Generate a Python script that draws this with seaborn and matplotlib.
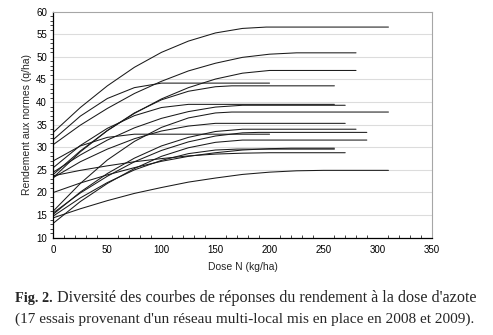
import matplotlib
matplotlib.use("Agg")
import matplotlib.pyplot as plt
from matplotlib.ticker import MultipleLocator
import seaborn as sns
import pandas as pd

# Nitrogen dose (kg/ha) and yield (q/ha) read along each of the 17 trial response curves
trial_doses = [
    [0, 25, 50, 75, 100, 125, 150, 175, 197, 310],
    [0, 25, 50, 75, 100, 105, 200],
    [0, 25, 50, 75, 100, 125, 150, 175, 200, 225, 280],
    [0, 25, 50, 75, 100, 125, 150, 175, 200, 210, 280],
    [0, 25, 50, 75, 100, 125, 150, 165, 260],
    [0, 25, 50, 75, 100, 125, 130, 260],
    [0, 25, 50, 75, 100, 125, 150, 175, 180, 270],
    [0, 25, 50, 75, 100, 125, 150, 165, 310],
    [0, 25, 50, 75, 100, 125, 150, 160, 270],
    [0, 25, 50, 75, 100, 125, 150, 175, 180, 280],
    [0, 25, 50, 75, 100, 125, 150, 175, 190, 290],
    [0, 25, 50, 75, 200],
    [0, 25, 50, 75, 100, 125, 150, 175, 180, 290],
    [0, 25, 50, 75, 100, 125, 150, 175, 200, 220, 260],
    [0, 25, 50, 75, 100, 125, 150, 170, 260],
    [0, 25, 50, 75, 100, 125, 150, 175, 200, 270],
    [0, 25, 50, 75, 100, 125, 150, 175, 200, 225, 250, 310],
]
trial_yields = [
    [33.3, 38.8, 43.6, 47.7, 51.0, 53.5, 55.3, 56.3, 56.6, 56.6],
    [31.7, 36.9, 40.8, 43.2, 44.2, 44.2, 44.2],
    [30.6, 34.9, 38.6, 41.9, 44.6, 46.9, 48.6, 49.9, 50.6, 50.9, 50.9],
    [24.0, 29.2, 33.7, 37.5, 40.7, 43.2, 45.1, 46.4, 47.0, 47.0, 47.0],
    [23.3, 29.0, 33.7, 37.6, 40.5, 42.4, 43.4, 43.6, 43.6],
    [25.5, 30.4, 34.2, 37.0, 38.8, 39.5, 39.5, 39.5],
    [24.5, 28.3, 31.6, 34.3, 36.4, 37.9, 38.9, 39.3, 39.3, 39.3],
    [15.9, 22.0, 27.2, 31.3, 34.4, 36.5, 37.6, 37.8, 37.8],
    [23.3, 26.8, 29.6, 31.9, 33.6, 34.7, 35.3, 35.3, 35.3],
    [15.2, 20.1, 24.2, 27.6, 30.3, 32.2, 33.5, 34.0, 34.0, 34.0],
    [15.5, 19.9, 23.6, 26.8, 29.3, 31.2, 32.5, 33.2, 33.3, 33.3],
    [27.0, 30.3, 32.2, 32.9, 32.9],
    [13.2, 18.0, 22.0, 25.3, 28.0, 29.9, 31.1, 31.6, 31.6, 31.6],
    [20.0, 22.1, 23.9, 25.5, 26.9, 28.0, 28.8, 29.4, 29.7, 29.8, 29.8],
    [14.8, 18.8, 22.2, 25.0, 27.1, 28.6, 29.4, 29.6, 29.6],
    [23.7, 24.9, 25.9, 26.8, 27.5, 28.1, 28.5, 28.7, 28.8, 28.8],
    [14.4, 16.4, 18.2, 19.8, 21.1, 22.3, 23.2, 24.0, 24.5, 24.8, 24.9, 24.9],
]
x_ticks = [0, 50, 100, 150, 200, 250, 300, 350]
y_ticks = [10, 15, 20, 25, 30, 35, 40, 45, 50, 55, 60]

rows = []
for t, (ds, ys) in enumerate(zip(trial_doses, trial_yields), start=1):
    for d, y in zip(ds, ys):
        rows.append({"essai": t, "dose": d, "rendement": y})
df = pd.DataFrame(rows)

sns.set_style("white")
plt.rcParams["font.family"] = ["Liberation Sans", "DejaVu Sans"]

W, H = 493, 335
fig = plt.figure(figsize=(W / 100, H / 100), dpi=100)
ax = fig.add_axes([53.3 / W, 1 - 237.7 / H, 378.4 / W, 226 / H])

sns.lineplot(data=df, x="dose", y="rendement", units="essai", estimator=None,
             color="#1a1a1a", lw=0.75, ax=ax, legend=False, sort=False)

ax.set_xlim(0, 350)
ax.set_ylim(10, 60)
ax.set_xticks(x_ticks)
ax.set_yticks(y_ticks)
ax.xaxis.set_minor_locator(MultipleLocator(10))
ax.yaxis.set_minor_locator(MultipleLocator(1))
for yv in y_ticks[1:-1]:
    ax.axhline(yv, color="#dcdcdc", lw=0.8, zorder=0)

ax.tick_params(axis="both", which="major", labelsize=7, colors="black", pad=2)
ax.tick_params(axis="y", which="major", direction="inout", length=5, width=0.8)
ax.tick_params(axis="y", which="minor", direction="out", length=2.5, width=0.6, left=True)
ax.tick_params(axis="x", which="major", direction="inout", length=5, width=0.8, pad=3)
ax.tick_params(axis="x", which="minor", direction="in", length=2.5, width=0.6, bottom=True)

for s in ["left", "bottom"]:
    ax.spines[s].set_color("black")
    ax.spines[s].set_linewidth(0.9)
for s in ["top", "right"]:
    ax.spines[s].set_visible(True)
    ax.spines[s].set_color("#a6a6a6")
    ax.spines[s].set_linewidth(0.8)

ax.set_xlabel("Dose N (kg/ha)", fontsize=7.5, labelpad=5)
ax.set_ylabel("Rendement aux normes (q/ha)", fontsize=7.5, labelpad=3)

# caption
fig.canvas.draw()
r = fig.canvas.get_renderer()
serif = ["Liberation Serif", "DejaVu Serif"]

def fit(txt, target_w, size, weight="normal"):
    t = fig.text(0, 0, txt, fontsize=size, family=serif, weight=weight)
    w = t.get_window_extent(r).width
    t.remove()
    return size * target_w / w

def width(t):
    return t.get_window_extent(r).width

line1_bold = "Fig. 2."
line1_rest = " Diversité des courbes de réponses du rendement à la dose d'azote"
line2 = "(17 essais provenant d'un réseau multi-local mis en place en 2008 et 2009)."

x0 = 15
s1 = 10.3
tb = fig.text(x0 / W, 1 - 302 / H, line1_bold, fontsize=s1, family=serif, weight="bold")
bw = width(tb)
s1r = fit(line1_rest, 476 - x0 - bw, s1)
fig.text((x0 + bw) / W, 1 - 302 / H, line1_rest, fontsize=s1r, family=serif)
s2 = fit(line2, 470 - x0, s1)
fig.text(x0 / W, 1 - 323 / H, line2, fontsize=s2, family=serif)

fig.savefig("out.png", dpi=100)
